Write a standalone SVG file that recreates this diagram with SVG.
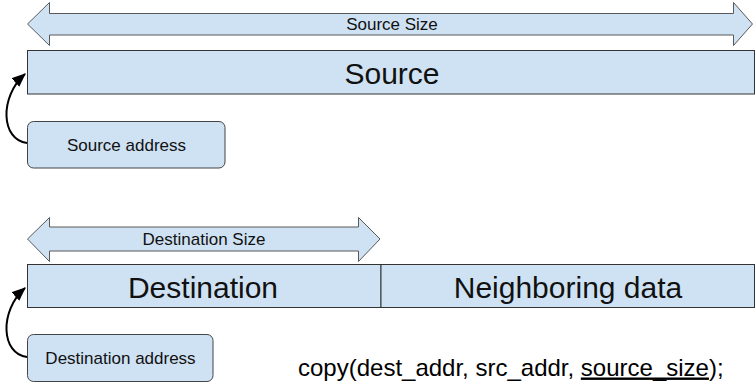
<svg xmlns="http://www.w3.org/2000/svg" width="756" height="386" viewBox="0 0 756 386">
  <style>
    .shape { fill: #cfe2f3; stroke: #595959; stroke-width: 1; }
    .box { fill: #cfe2f3; stroke: #444444; stroke-width: 1; }
    .block { fill: #cfe2f3; stroke: #333333; stroke-width: 1; }
    .label { font-family: "Liberation Sans", Arial, sans-serif; fill: #111111; text-anchor: middle; }
    .small { font-size: 17px; }
    .big { font-size: 30px; }
    .code { font-family: "Liberation Sans", Arial, sans-serif; font-size: 24px; fill: #000000; }
    .link { fill: none; stroke: #000000; stroke-width: 2; }
  </style>
  <defs>
    <marker id="head" viewBox="0 0 12 10" refX="11" refY="5" markerWidth="7" markerHeight="6" orient="auto" markerUnits="strokeWidth">
      <path d="M0,0 L12,5 L0,10 Z" fill="#000000"/>
    </marker>
  </defs>

  <rect width="756" height="386" fill="#ffffff"/>

  <!-- size span across the whole source buffer -->
  <g id="source-size">
    <path class="shape" d="M27.5,24 L49.5,2.5 L49.5,13.5 L733.5,13.5 L733.5,2.5 L752.5,24 L733.5,45.5 L733.5,35 L49.5,35 L49.5,45.5 Z"/>
    <text class="label small" x="392" y="30">Source Size</text>
  </g>

  <g id="source">
    <rect class="block" x="27.5" y="50.5" width="727" height="43.5"/>
    <text class="label big" x="392" y="83.5">Source</text>
  </g>

  <g id="source-address">
    <rect class="box" x="27.5" y="121.5" width="197.5" height="46.5" rx="6"/>
    <text class="label small" x="126.5" y="151">Source address</text>
  </g>

  <!-- size span over the destination buffer only -->
  <g id="destination-size">
    <path class="shape" d="M27.5,239 L49.5,217.5 L49.5,227 L358.5,227 L358.5,217.5 L380,239 L358.5,261.5 L358.5,251 L49.5,251 L49.5,261.5 Z"/>
    <text class="label small" x="204" y="245">Destination Size</text>
  </g>

  <g id="destination">
    <rect class="block" x="27.5" y="264.5" width="353.5" height="43"/>
    <text class="label big" x="203" y="298">Destination</text>
  </g>

  <g id="neighboring-data">
    <rect class="block" x="381" y="264.5" width="373.5" height="43"/>
    <text class="label big" x="568" y="298">Neighboring data</text>
  </g>

  <g id="destination-address">
    <rect class="box" x="27.5" y="334.5" width="185.5" height="47" rx="6"/>
    <text class="label small" x="120.5" y="364">Destination address</text>
  </g>

  <g id="call">
    <text class="code" x="298" y="375.5">copy(dest_addr, src_addr, <tspan text-decoration="underline">source_size</tspan>);</text>
  </g>

  <g id="connectors">
    <path class="link" d="M27,143 C1,140 -1,97 25,74" marker-end="url(#head)"/>
    <path class="link" d="M27,357 C1,354 -1,311 25,288" marker-end="url(#head)"/>
  </g>
</svg>
